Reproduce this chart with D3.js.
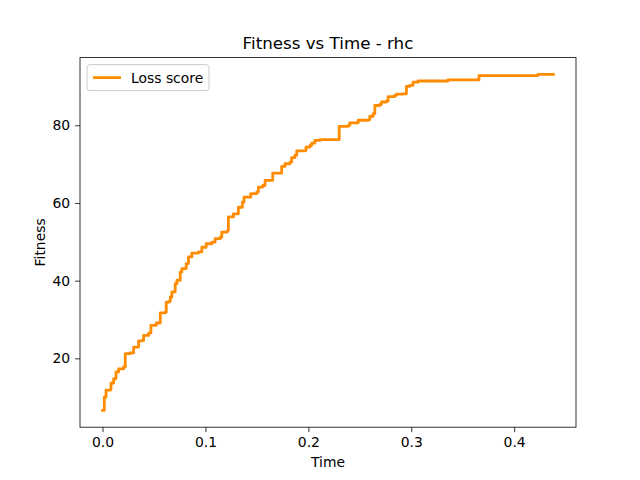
<!DOCTYPE html>
<html>
<head>
<meta charset="utf-8">
<script src="https://cdn.jsdelivr.net/npm/d3@7"></script>
<style>
  body { margin: 0; background: #fff; }
  text { font-family: "DejaVu Sans", sans-serif; }
</style>
</head>
<body>
<div id="chart"></div>
<script>
// data
var times = [0.0000, 0.0017, 0.0034, 0.0076, 0.0082, 0.0108, 0.0131, 0.0156, 0.0205, 0.0221,
  0.0270, 0.0302, 0.0335, 0.0350, 0.0383, 0.0399, 0.0447, 0.0470, 0.0522, 0.0561,
  0.0609, 0.0619, 0.0651, 0.0658, 0.0674, 0.0706, 0.0723, 0.0755, 0.0771, 0.0813,
  0.0835, 0.0868, 0.0932, 0.0965, 0.1007, 0.1062, 0.1094, 0.1143, 0.1159, 0.1213,
  0.1223, 0.1272, 0.1320, 0.1359, 0.1375, 0.1440, 0.1499, 0.1514, 0.1557, 0.1579,
  0.1644, 0.1654, 0.1731, 0.1741, 0.1773, 0.1822, 0.1838, 0.1870, 0.1887, 0.1967,
  0.1977, 0.2016, 0.2032, 0.2064, 0.2113, 0.2280, 0.2300, 0.2387, 0.2403, 0.2468,
  0.2484, 0.2581, 0.2597, 0.2630, 0.2646, 0.2695, 0.2711, 0.2759, 0.2775, 0.2840,
  0.2856, 0.2920, 0.2953, 0.2985, 0.3017, 0.3066, 0.3341, 0.3357, 0.3648, 0.3658,
  0.4214, 0.4230, 0.4382];
var fitness = [6.6, 10.0, 11.8, 11.9, 13.6, 14.8, 16.5, 17.3, 17.8, 21.2,
  21.4, 22.9, 22.9, 24.5, 24.6, 25.9, 26.5, 28.5, 29.1, 31.7,
  31.9, 34.5, 34.7, 35.8, 37.1, 39.2, 40.1, 42.2, 43.1, 44.4,
  46.1, 47.1, 47.4, 48.6, 49.5, 49.9, 50.8, 51.2, 52.5, 52.9,
  56.4, 57.2, 58.9, 60.2, 61.5, 62.4, 62.8, 64.1, 64.5, 65.8,
  65.8, 67.7, 67.7, 69.4, 70.1, 70.5, 71.7, 72.3, 73.4, 73.5,
  74.4, 74.8, 75.4, 76.1, 76.3, 76.3, 79.7, 80.0, 80.6, 80.6,
  81.3, 81.4, 82.3, 83.0, 85.1, 85.4, 86.0, 86.2, 87.4, 87.7,
  88.0, 88.1, 90.0, 90.3, 91.1, 91.4, 91.4, 91.7, 91.7, 92.8,
  92.8, 93.1, 93.1];
var xTicks = [0.0, 0.1, 0.2, 0.3, 0.4];
var yTicks = [20, 40, 60, 80];
var seriesName = "Loss score";

var svgWidth = 640;
var svgHeight = 480;
var margin = { top: 57.6, right: 64, bottom: 52.8, left: 80 };
var width = svgWidth - margin.left - margin.right;
var height = svgHeight - margin.top - margin.bottom;

var svg = d3.select("#chart")
  .append("svg")
  .attr("width", svgWidth)
  .attr("height", svgHeight);

var chartGroup = svg.append("g")
  .attr("transform", `translate(${margin.left}, ${margin.top})`);

var pts = times.map(function (t, i) { return { t: t, f: fitness[i] }; });

// matplotlib style 5% padding
var xMin = d3.min(times), xMax = d3.max(times);
var yMin = d3.min(fitness), yMax = d3.max(fitness);
var xPad = (xMax - xMin) * 0.05, yPad = (yMax - yMin) * 0.05;

var xScale = d3.scaleLinear()
  .domain([xMin - xPad, xMax + xPad])
  .range([0, width]);
var yScale = d3.scaleLinear()
  .domain([yMin - yPad, yMax + yPad])
  .range([height, 0]);

var bottomAxis = d3.axisBottom(xScale)
  .tickValues(xTicks)
  .tickFormat(d3.format(".1f"))
  .tickSize(4.9)
  .tickPadding(4.9)
  .tickSizeOuter(0);
var leftAxis = d3.axisLeft(yScale)
  .tickValues(yTicks)
  .tickSize(4.9)
  .tickPadding(4.9)
  .tickSizeOuter(0);

var xAxisG = chartGroup.append("g")
  .attr("transform", `translate(0, ${height})`)
  .call(bottomAxis);
var yAxisG = chartGroup.append("g")
  .call(leftAxis);

[xAxisG, yAxisG].forEach(function (g) {
  g.select(".domain").remove();
  g.selectAll("line").attr("stroke", "#000").attr("stroke-width", 0.8);
  g.selectAll("text").attr("fill", "#000").style("font-size", "13.9px");
});

// the line, stepped like the per-iteration fitness curve
var line = d3.line()
  .curve(d3.curveStepAfter)
  .x(d => xScale(d.t))
  .y(d => yScale(d.f));

chartGroup.append("path")
  .datum(pts)
  .attr("fill", "none")
  .attr("stroke", "#ff8c00")
  .attr("stroke-width", 2.8)
  .attr("stroke-linejoin", "round")
  .attr("stroke-linecap", "square")
  .attr("d", line);

// frame
chartGroup.append("rect")
  .attr("width", width)
  .attr("height", height)
  .attr("fill", "none")
  .attr("stroke", "#000")
  .attr("stroke-width", 0.8);

// title and labels
svg.append("text")
  .attr("x", margin.left + width / 2)
  .attr("y", margin.top - 8.5)
  .attr("text-anchor", "middle")
  .style("font-size", "16.7px")
  .text("Fitness vs Time - rhc");

svg.append("text")
  .attr("x", margin.left + width / 2)
  .attr("y", 467)
  .attr("text-anchor", "middle")
  .style("font-size", "13.9px")
  .text("Time");

svg.append("text")
  .attr("transform", "rotate(-90)")
  .attr("x", -(margin.top + height / 2))
  .attr("y", 45)
  .attr("text-anchor", "middle")
  .style("font-size", "13.9px")
  .text("Fitness");

// legend
var legend = chartGroup.append("g")
  .attr("transform", "translate(7, 7)");
legend.append("rect")
  .attr("width", 122)
  .attr("height", 26)
  .attr("rx", 3)
  .attr("fill", "#fff")
  .attr("fill-opacity", 0.8)
  .attr("stroke", "#cccccc")
  .attr("stroke-width", 1);
legend.append("line")
  .attr("x1", 6).attr("x2", 34)
  .attr("y1", 13).attr("y2", 13)
  .attr("stroke", "#ff8c00")
  .attr("stroke-width", 2.8);
legend.append("text")
  .attr("x", 44)
  .attr("y", 18)
  .style("font-size", "13.9px")
  .text(seriesName);
</script>
</body>
</html>
